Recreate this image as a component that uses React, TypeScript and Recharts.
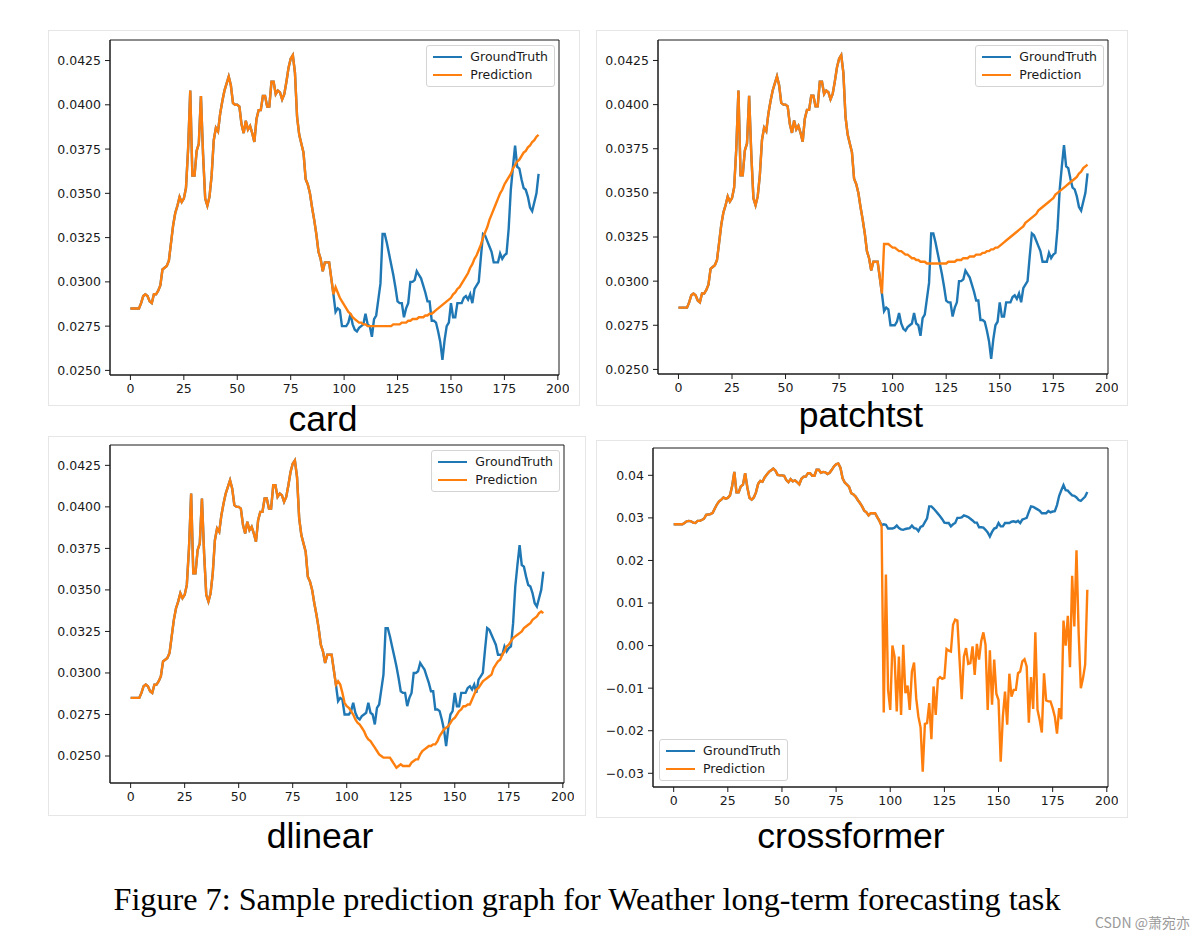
import { LineChart, Line, XAxis, YAxis, Legend, ReferenceArea } from 'recharts'

// shared input window (steps 0..95), identical in every panel
const history = [
  0.0285, 0.0285, 0.0285, 0.0285, 0.0285, 0.0288, 0.0292, 0.0293, 0.0292, 0.0289,
  0.0288, 0.0293, 0.0293, 0.0295, 0.0298, 0.0307, 0.0308, 0.0309, 0.0312, 0.0322,
  0.0332, 0.0339, 0.0343, 0.0348, 0.0345, 0.0347, 0.0353, 0.0375, 0.0408, 0.036,
  0.036, 0.0374, 0.0378, 0.0405, 0.0372, 0.0347, 0.0343, 0.0348, 0.036, 0.038,
  0.0387, 0.0385, 0.0395, 0.0402, 0.0408, 0.0412, 0.0416, 0.0411, 0.0401, 0.04,
  0.04, 0.0399, 0.0389, 0.0384, 0.0391, 0.0386, 0.0388, 0.0384, 0.0379, 0.0392,
  0.0397, 0.0397, 0.0405, 0.0405, 0.0399, 0.0399, 0.0413, 0.0413, 0.0406, 0.0408,
  0.0407, 0.0403, 0.0406, 0.0413, 0.0421, 0.0426, 0.0428, 0.0418, 0.0393, 0.0383,
  0.0378, 0.0373, 0.0358, 0.0355, 0.035, 0.0342, 0.0335, 0.0327, 0.0317, 0.0313,
  0.0306, 0.0311, 0.0311, 0.0311, 0.0302, 0.0293,
]

// ground truth for steps 96..191
const truthFuture = [
  0.0283, 0.0285, 0.0284, 0.0275, 0.0275, 0.0275, 0.0277, 0.0282, 0.0276, 0.0273,
  0.0272, 0.0274, 0.0275, 0.0276, 0.0282, 0.0276, 0.0275, 0.0269, 0.0279, 0.0281,
  0.029, 0.0299, 0.0327, 0.0327, 0.0322, 0.0316, 0.031, 0.0304, 0.0297, 0.0289,
  0.0288, 0.0288, 0.028, 0.0285, 0.0288, 0.03, 0.03, 0.0301, 0.0306, 0.0304,
  0.0302, 0.0298, 0.0294, 0.0289, 0.0289, 0.0278, 0.0278, 0.0277, 0.0272, 0.0266,
  0.0256, 0.0267, 0.0275, 0.0277, 0.0288, 0.028, 0.028, 0.0288, 0.0288, 0.0288,
  0.0291, 0.0292, 0.029, 0.0293, 0.0288, 0.0296, 0.0298, 0.03, 0.0314, 0.0327,
  0.0326, 0.0323, 0.032, 0.0317, 0.0311, 0.0311, 0.0311, 0.0316, 0.0313, 0.0315,
  0.0316, 0.033, 0.0352, 0.0365, 0.0377, 0.0365, 0.0364, 0.0358, 0.0353, 0.0352,
  0.0348, 0.0342, 0.034, 0.0345, 0.035, 0.0361,
]

const cardPred = [
  0.0297, 0.0294, 0.0291, 0.0289, 0.0287, 0.0285, 0.0283, 0.0282, 0.028, 0.0279,
  0.0278, 0.0277, 0.0277, 0.0276, 0.0276, 0.0275, 0.0275, 0.0275, 0.0275, 0.0275,
  0.0275, 0.0275, 0.0275, 0.0275, 0.0275, 0.0275, 0.0275, 0.0276, 0.0276, 0.0276,
  0.0276, 0.0277, 0.0277, 0.0277, 0.0278, 0.0278, 0.0279, 0.0279, 0.0279, 0.028,
  0.028, 0.028, 0.0281, 0.0281, 0.0282, 0.0282, 0.0283, 0.0284, 0.0285, 0.0286,
  0.0287, 0.0288, 0.0289, 0.029, 0.0291, 0.0293, 0.0294, 0.0296, 0.0297, 0.0299,
  0.0301, 0.0303, 0.0305, 0.0308, 0.031, 0.0313, 0.0315, 0.0318, 0.0321, 0.0325,
  0.0328, 0.0331, 0.0335, 0.0338, 0.0341, 0.0344, 0.0347, 0.035, 0.0352, 0.0355,
  0.0357, 0.0359, 0.0361, 0.0364, 0.0366, 0.0368, 0.0369, 0.0371, 0.0373, 0.0374,
  0.0376, 0.0377, 0.0379, 0.038, 0.0382, 0.0383,
]

const patchtstPred = [
  0.0321, 0.0321, 0.0321, 0.032, 0.0319, 0.0319, 0.0318, 0.0317, 0.0317, 0.0316,
  0.0315, 0.0315, 0.0314, 0.0313, 0.0313, 0.0312, 0.0312, 0.0311, 0.0311, 0.0311,
  0.031, 0.031, 0.031, 0.031, 0.031, 0.031, 0.031, 0.031, 0.031, 0.031,
  0.0311, 0.0311, 0.0311, 0.0311, 0.0312, 0.0312, 0.0312, 0.0313, 0.0313, 0.0313,
  0.0314, 0.0314, 0.0314, 0.0315, 0.0315, 0.0315, 0.0316, 0.0316, 0.0317, 0.0317,
  0.0318, 0.0318, 0.0319, 0.0319, 0.032, 0.0321, 0.0322, 0.0323, 0.0324, 0.0325,
  0.0326, 0.0327, 0.0328, 0.0329, 0.033, 0.0331, 0.0333, 0.0334, 0.0335, 0.0336,
  0.0337, 0.0338, 0.034, 0.0341, 0.0342, 0.0343, 0.0344, 0.0345, 0.0346, 0.0347,
  0.0349, 0.035, 0.0351, 0.0352, 0.0353, 0.0354, 0.0355, 0.0356, 0.0357, 0.0358,
  0.0359, 0.0361, 0.0362, 0.0364, 0.0365, 0.0366,
]

const dlinearPred = [
  0.0295, 0.0293, 0.0288, 0.0282, 0.028, 0.0279, 0.0277, 0.0275, 0.0272, 0.027,
  0.0269, 0.0267, 0.0265, 0.0262, 0.026, 0.0259, 0.0257, 0.0255, 0.0253, 0.0251,
  0.025, 0.0249, 0.0249, 0.0249, 0.0249, 0.0247, 0.0245, 0.0243, 0.0244, 0.0245,
  0.0244, 0.0244, 0.0244, 0.0244, 0.0246, 0.0247, 0.0248, 0.0248, 0.0251, 0.0253,
  0.0254, 0.0255, 0.0256, 0.0256, 0.0257, 0.0257, 0.0259, 0.0262, 0.0264, 0.0266,
  0.0267, 0.0268, 0.027, 0.0272, 0.0273, 0.0275, 0.0277, 0.0278, 0.028, 0.028,
  0.0281, 0.0281, 0.0284, 0.0287, 0.029, 0.0291, 0.0293, 0.0295, 0.0296, 0.0297,
  0.0298, 0.0299, 0.0303, 0.0305, 0.0307, 0.0308, 0.0311, 0.0313, 0.0316, 0.0317,
  0.0319, 0.0321, 0.0322, 0.0323, 0.0324, 0.0325, 0.0327, 0.0328, 0.0329, 0.033,
  0.0332, 0.0333, 0.0334, 0.0336, 0.0337, 0.0336,
]

const crossformerPred = [
  0.028, -0.0157, 0.0167, -0.0104, -0.0151, 0.0, -0.0026, -0.0155, -0.0026, -0.0163,
  0.0002, -0.0112, -0.0094, -0.0151, -0.0061, -0.004, -0.0124, -0.0167, -0.0192, -0.0296,
  -0.0184, -0.0182, -0.0135, -0.022, -0.0096, -0.0163, -0.0079, -0.0074, -0.0078, -0.0076,
  -0.0008, -0.0012, -0.0014, 0.0049, 0.0061, 0.0059, -0.0033, -0.0126, -0.0026, -0.0006,
  -0.0043, -0.0041, -0.0002, -0.0069, 0.0004, -0.0033, 0.001, 0.0031, 0.0002, -0.0151,
  -0.0011, -0.0139, -0.0033, -0.0113, -0.0128, -0.0273, -0.0167, -0.0108, -0.0186, -0.0066,
  -0.012, -0.0104, -0.0104, -0.0065, -0.0061, -0.0037, -0.0032, -0.0049, -0.0181, -0.0074,
  -0.0149, 0.0031, -0.0151, -0.0175, -0.0204, -0.0065, -0.0129, -0.0131, -0.0131, -0.0147,
  -0.0167, -0.0207, -0.0147, -0.0173, 0.0059, 0.0, 0.007, -0.0051, 0.0164, 0.0045,
  0.0224, 0.0029, -0.01, -0.0077, -0.0045, 0.0131,
]

const xTicks = [0, 25, 50, 75, 100, 125, 150, 175, 200]
const fineTicks = [0.025, 0.0275, 0.03, 0.0325, 0.035, 0.0375, 0.04, 0.0425]
const wideTicks = [-0.03, -0.02, -0.01, 0, 0.01, 0.02, 0.03, 0.04]

const BLUE = '#1f77b4'
const ORANGE = '#ff7f0e'
const INK = '#1a1a1a'
const X_DOMAIN: [number, number] = [-9.55, 200.55]

const AXIS_W = 70
const PAD_TOP = 10
const PAD_RIGHT = 10
const AXIS_H = 35
const PAD_BOTTOM = 5

const tickStyle = { fill: INK, fontSize: 12.5, fontFamily: 'DejaVu Sans' }

function buildRows(pred: number[]) {
  const truth = history.concat(truthFuture)
  const full = history.concat(pred)
  return truth.map((t, i) => ({ x: i, truth: t, pred: full[i] }))
}

// matplotlib-like 5% margin around the data
function paddedDomain(rows: { truth: number; pred: number }[]): [number, number] {
  const vals = rows.flatMap(r => [r.truth, r.pred])
  const lo = Math.min(...vals)
  const hi = Math.max(...vals)
  const pad = (hi - lo) * 0.05
  return [lo - pad, hi + pad]
}

const fmtFine = (v: number) => v.toFixed(4)
const fmtWide = (v: number) => (v < -1e-9 ? '\u2212' : '') + Math.abs(v).toFixed(2)

interface LegendEntry {
  value?: string
  color?: string
}

function LegendBox({ payload }: { payload?: LegendEntry[] }) {
  return (
    <div
      style={{
        border: '1px solid #d4d4d4',
        borderRadius: 3,
        background: 'rgba(255,255,255,0.85)',
        padding: '2px 6px',
        fontFamily: 'DejaVu Sans',
        fontSize: 12.5,
        color: INK,
        lineHeight: '18px',
      }}
    >
      {(payload || []).map(item => (
        <div key={item.value} style={{ display: 'flex', alignItems: 'center', whiteSpace: 'nowrap' }}>
          <span style={{ display: 'inline-block', width: 29, height: 2.4, background: item.color, marginRight: 8 }} />
          {item.value}
        </div>
      ))}
    </div>
  )
}

interface PlotBox {
  left: number
  top: number
  width: number
  height: number
}

interface PanelProps {
  pred: number[]
  box: PlotBox
  yTicks: number[]
  formatY: (v: number) => string
  legendAt: 'upper right' | 'lower left'
}

function Panel({ pred, box, yTicks, formatY, legendAt }: PanelProps) {
  const rows = buildRows(pred)
  const yDomain = paddedDomain(rows)
  const width = box.width + AXIS_W + PAD_RIGHT
  const height = box.height + PAD_TOP + AXIS_H + PAD_BOTTOM
  const legendStyle =
    legendAt === 'upper right'
      ? { top: PAD_TOP + 5, right: PAD_RIGHT + 4 }
      : { left: AXIS_W + 6, bottom: AXIS_H + PAD_BOTTOM + 6 }

  return (
    <div style={{ position: 'absolute', left: box.left - AXIS_W, top: box.top - PAD_TOP }}>
      <LineChart
        width={width}
        height={height}
        data={rows}
        margin={{ top: PAD_TOP, right: PAD_RIGHT, bottom: PAD_BOTTOM, left: 0 }}
      >
        <XAxis
          dataKey="x"
          type="number"
          domain={X_DOMAIN}
          ticks={xTicks}
          interval={0}
          allowDataOverflow
          height={AXIS_H}
          tickSize={5}
          tickMargin={4}
          tick={tickStyle}
          tickLine={{ stroke: INK }}
          axisLine={{ stroke: INK }}
        />
        <YAxis
          type="number"
          domain={yDomain}
          ticks={yTicks}
          interval={0}
          allowDataOverflow
          width={AXIS_W}
          tickSize={5}
          tickMargin={4}
          tick={tickStyle}
          tickLine={{ stroke: INK }}
          axisLine={{ stroke: INK }}
          tickFormatter={formatY}
        />
        <ReferenceArea
          x1={X_DOMAIN[0]}
          x2={X_DOMAIN[1]}
          y1={yDomain[0]}
          y2={yDomain[1]}
          fill="none"
          stroke={INK}
          strokeWidth={1}
          ifOverflow="visible"
        />
        <Line
          name="GroundTruth"
          dataKey="truth"
          type="linear"
          stroke={BLUE}
          strokeWidth={2.4}
          dot={false}
          isAnimationActive={false}
        />
        <Line
          name="Prediction"
          dataKey="pred"
          type="linear"
          stroke={ORANGE}
          strokeWidth={2.4}
          dot={false}
          isAnimationActive={false}
        />
        <Legend
          layout="vertical"
          align="center"
          verticalAlign="middle"
          wrapperStyle={legendStyle}
          content={(props: any) => <LegendBox payload={props.payload} />}
        />
      </LineChart>
    </div>
  )
}

const frameStyle = (left: number, top: number, width: number, height: number) => ({
  position: 'absolute' as const,
  left,
  top,
  width,
  height,
  border: '1px solid #e6e6e6',
  boxSizing: 'border-box' as const,
})

const labelStyle = (cx: number, top: number) => ({
  position: 'absolute' as const,
  left: cx,
  top,
  transform: 'translateX(-50%)',
  fontFamily: '"Liberation Sans", Arial, sans-serif',
  fontSize: 35.5,
  lineHeight: 1,
  color: '#000',
  whiteSpace: 'nowrap' as const,
})

export default function App() {
  return (
    <div style={{ position: 'absolute', left: 0, top: 0, width: 1204, height: 940, background: '#fff', overflow: 'hidden' }}>
      <div style={frameStyle(48, 30, 532, 376)} />
      <div style={frameStyle(596, 30, 532, 376)} />
      <div style={frameStyle(48, 436, 538, 380)} />
      <div style={frameStyle(596, 440, 532, 378)} />

      <Panel pred={cardPred} box={{ left: 110, top: 40, width: 449, height: 335 }} yTicks={fineTicks} formatY={fmtFine} legendAt="upper right" />
      <Panel pred={patchtstPred} box={{ left: 658, top: 40, width: 450, height: 334 }} yTicks={fineTicks} formatY={fmtFine} legendAt="upper right" />
      <Panel pred={dlinearPred} box={{ left: 110, top: 445, width: 454, height: 338 }} yTicks={fineTicks} formatY={fmtFine} legendAt="upper right" />
      <Panel pred={crossformerPred} box={{ left: 653, top: 448, width: 455, height: 339 }} yTicks={wideTicks} formatY={fmtWide} legendAt="lower left" />

      <div style={labelStyle(323, 402)}>card</div>
      <div style={labelStyle(861, 398)}>patchtst</div>
      <div style={labelStyle(320, 819)}>dlinear</div>
      <div style={labelStyle(851, 819)}>crossformer</div>

      <div
        style={{
          position: 'absolute',
          left: 587,
          top: 883,
          transform: 'translateX(-50%)',
          fontFamily: '"Liberation Serif", "Times New Roman", serif',
          fontSize: 32.2,
          lineHeight: 1,
          color: '#000',
          whiteSpace: 'nowrap',
        }}
      >
        Figure 7: Sample prediction graph for Weather long-term forecasting task
      </div>
      <div
        style={{
          position: 'absolute',
          right: 14,
          top: 912,
          fontFamily: '"Noto Sans CJK SC", "Noto Sans", sans-serif',
          fontSize: 14,
          color: '#9a9a9a',
          whiteSpace: 'nowrap',
        }}
      >
        CSDN @萧宛亦
      </div>
    </div>
  )
}
